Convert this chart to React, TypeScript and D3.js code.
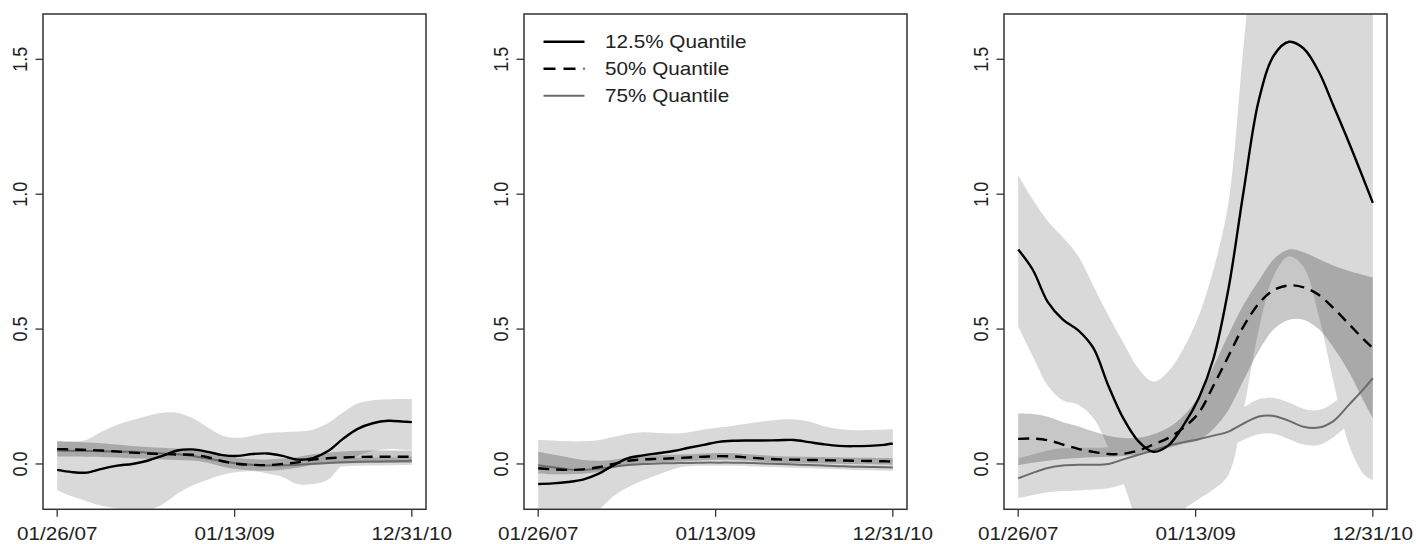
import React from "react";
import * as d3 from "d3";

// ---------- data ----------
const sampleDates = [
  "2007-01-26", "2007-03-26", "2007-05-26", "2007-07-26", "2007-09-26", "2007-11-26",
  "2008-01-26", "2008-03-26", "2008-05-26", "2008-07-26", "2008-09-26", "2008-11-26",
  "2009-01-26", "2009-03-26", "2009-05-26", "2009-07-26", "2009-09-26", "2009-11-26",
  "2010-01-26", "2010-03-26", "2010-05-26", "2010-07-26", "2010-09-26", "2010-11-26",
  "2010-12-31",
];
const xTickDates = ["2007-01-26", "2009-01-13", "2010-12-31"];
const xDomain = ["2007-01-26", "2010-12-31"];
const yTicks = [0, 0.5, 1.0, 1.5];
const yLimits = [-0.1, 1.6];
const legendLabels = ["12.5% Quantile", "50% Quantile", "75% Quantile"];

// Panel 1
const p1Q125 = [-0.022, -0.03, -0.032, -0.018, -0.006, 0.0, 0.012, 0.03, 0.05, 0.054, 0.045, 0.033, 0.03, 0.037, 0.039, 0.03, 0.016, 0.022, 0.048, 0.092, 0.13, 0.151, 0.16, 0.157, 0.155];
const p1Q125Hi = [0.082, 0.082, 0.09, 0.12, 0.145, 0.163, 0.178, 0.19, 0.19, 0.17, 0.135, 0.105, 0.097, 0.105, 0.115, 0.118, 0.12, 0.127, 0.152, 0.19, 0.224, 0.236, 0.24, 0.241, 0.241];
const p1Q125Lo = [-0.096, -0.12, -0.138, -0.155, -0.165, -0.172, -0.172, -0.15, -0.11, -0.08, -0.058, -0.04, -0.03, -0.027, -0.035, -0.048, -0.075, -0.074, -0.058, -0.002, 0.03, 0.048, 0.055, 0.053, 0.052];
const p1Q50 = [0.055, 0.054, 0.052, 0.05, 0.046, 0.042, 0.039, 0.037, 0.035, 0.034, 0.025, 0.01, 0.0, -0.003, -0.004, 0.0, 0.006, 0.016, 0.021, 0.024, 0.026, 0.027, 0.027, 0.027, 0.027];
const p1Q50Hi = [0.085, 0.083, 0.08, 0.077, 0.072, 0.067, 0.063, 0.06, 0.057, 0.055, 0.046, 0.032, 0.022, 0.018, 0.017, 0.02, 0.026, 0.036, 0.042, 0.046, 0.049, 0.05, 0.05, 0.05, 0.05];
const p1Q50Lo = [0.028, 0.028, 0.027, 0.026, 0.024, 0.021, 0.019, 0.017, 0.015, 0.013, 0.005, -0.01, -0.02, -0.024, -0.025, -0.021, -0.014, -0.004, 0.0, 0.002, 0.003, 0.004, 0.004, 0.004, 0.004];
const p1Q75 = [0.05, 0.049, 0.048, 0.047, 0.046, 0.045, 0.042, 0.039, 0.036, 0.03, 0.02, 0.01, 0.002, -0.003, -0.006, -0.005, -0.003, 0.001, 0.004, 0.006, 0.008, 0.009, 0.01, 0.011, 0.012];
const p1Q75Hi = [0.065, 0.064, 0.063, 0.062, 0.061, 0.06, 0.057, 0.054, 0.051, 0.045, 0.035, 0.025, 0.017, 0.012, 0.009, 0.01, 0.012, 0.016, 0.019, 0.021, 0.023, 0.024, 0.025, 0.026, 0.027];
const p1Q75Lo = [0.035, 0.034, 0.033, 0.032, 0.031, 0.03, 0.027, 0.024, 0.021, 0.015, 0.005, -0.005, -0.013, -0.018, -0.021, -0.02, -0.018, -0.014, -0.011, -0.009, -0.007, -0.006, -0.005, -0.004, -0.003];

// Panel 2
const p2Q125 = [-0.074, -0.072, -0.067, -0.058, -0.037, -0.005, 0.022, 0.032, 0.04, 0.048, 0.06, 0.071, 0.082, 0.086, 0.087, 0.087, 0.088, 0.089, 0.081, 0.073, 0.067, 0.066, 0.067, 0.071, 0.076];
const p2Q125Hi = [0.089, 0.087, 0.084, 0.084, 0.088, 0.1, 0.112, 0.118, 0.115, 0.113, 0.118, 0.128, 0.135, 0.142, 0.15, 0.158, 0.164, 0.165, 0.157, 0.14, 0.13, 0.125, 0.126, 0.128, 0.13];
const p2Q125Lo = [-0.25, -0.23, -0.21, -0.19, -0.17, -0.12, -0.085, -0.06, -0.04, -0.02, -0.005, 0.0, -0.002, -0.004, -0.005, -0.006, -0.007, -0.008, -0.009, -0.01, -0.011, -0.012, -0.013, -0.014, -0.015];
const p2Q50 = [-0.016, -0.02, -0.022, -0.02, -0.012, 0.0, 0.012, 0.017, 0.019, 0.021, 0.024, 0.027, 0.029, 0.028, 0.024, 0.02, 0.017, 0.016, 0.015, 0.014, 0.013, 0.012, 0.011, 0.01, 0.009];
const p2Q50Hi = [0.045, 0.035, 0.025, 0.015, 0.012, 0.016, 0.025, 0.03, 0.032, 0.034, 0.036, 0.039, 0.041, 0.04, 0.036, 0.032, 0.029, 0.028, 0.027, 0.026, 0.025, 0.024, 0.023, 0.022, 0.021];
const p2Q50Lo = [-0.035, -0.038, -0.038, -0.036, -0.03, -0.015, -0.002, 0.004, 0.006, 0.008, 0.011, 0.014, 0.016, 0.015, 0.012, 0.008, 0.005, 0.004, 0.003, 0.002, 0.001, 0.0, -0.001, -0.002, -0.003];
const p2Q75 = [-0.005, -0.012, -0.02, -0.022, -0.018, -0.01, -0.004, 0.0, 0.002, 0.003, 0.004, 0.005, 0.005, 0.005, 0.004, 0.002, 0.0, -0.002, -0.004, -0.006, -0.008, -0.01, -0.011, -0.012, -0.013];
const p2Q75Hi = [0.007, 0.0, -0.008, -0.01, -0.006, 0.002, 0.008, 0.012, 0.014, 0.015, 0.016, 0.017, 0.017, 0.017, 0.016, 0.014, 0.012, 0.01, 0.008, 0.006, 0.004, 0.002, 0.001, 0.0, -0.001];
const p2Q75Lo = [-0.017, -0.024, -0.032, -0.034, -0.03, -0.022, -0.016, -0.012, -0.01, -0.009, -0.008, -0.007, -0.007, -0.007, -0.008, -0.01, -0.012, -0.014, -0.016, -0.018, -0.02, -0.022, -0.023, -0.024, -0.025];

// Panel 3
const p3Q125 = [0.795, 0.72, 0.6, 0.535, 0.495, 0.43, 0.29, 0.17, 0.085, 0.045, 0.07, 0.145, 0.245, 0.39, 0.65, 1.01, 1.35, 1.515, 1.565, 1.54, 1.455, 1.325, 1.19, 1.05, 0.968];
const p3Q125Hi = [1.07, 0.98, 0.9, 0.84, 0.77, 0.66, 0.55, 0.45, 0.355, 0.305, 0.345, 0.43, 0.55, 0.72, 0.97, 1.55, 2.1, 2.3, 2.4, 2.4, 2.4, 2.4, 2.4, 2.4, 2.4];
const p3Q125Lo = [0.51, 0.4, 0.29, 0.235, 0.22, 0.17, 0.06, -0.07, -0.22, -0.3, -0.25, -0.17, -0.13, -0.095, -0.04, 0.2, 0.5, 0.7, 0.77, 0.73, 0.55, 0.3, 0.07, -0.04, -0.06];
const p3Q50 = [0.093, 0.094, 0.088, 0.072, 0.056, 0.045, 0.037, 0.038, 0.05, 0.072, 0.097, 0.135, 0.19, 0.29, 0.4, 0.51, 0.595, 0.645, 0.662, 0.655, 0.627, 0.577, 0.518, 0.46, 0.43];
const p3Q50Hi = [0.187, 0.185, 0.175, 0.155, 0.14, 0.12, 0.104, 0.096, 0.097, 0.11, 0.135, 0.18, 0.25, 0.36, 0.48, 0.59, 0.68, 0.76, 0.795, 0.785, 0.76, 0.735, 0.715, 0.7, 0.692];
const p3Q50Lo = [-0.004, 0.005, 0.012, 0.018, 0.022, 0.025, 0.027, 0.03, 0.035, 0.045, 0.06, 0.075, 0.09, 0.13, 0.2, 0.31, 0.42, 0.5, 0.535, 0.535, 0.5, 0.43, 0.34, 0.23, 0.17];
const p3Q75 = [-0.053, -0.033, -0.015, -0.006, -0.003, -0.003, 0.0, 0.017, 0.034, 0.05, 0.068, 0.081, 0.092, 0.105, 0.12, 0.15, 0.176, 0.178, 0.16, 0.138, 0.135, 0.16, 0.22, 0.28, 0.318];
const p3Q75Hi = [0.02, 0.035, 0.05, 0.058, 0.06, 0.06, 0.062, 0.075, 0.09, 0.105, 0.12, 0.133, 0.145, 0.16, 0.18, 0.21, 0.24, 0.245, 0.228, 0.205, 0.2, 0.228, 0.28, 0.345, 0.385];
const p3Q75Lo = [-0.127, -0.115, -0.105, -0.1, -0.098, -0.095, -0.09, -0.075, -0.055, -0.035, -0.015, 0.0, 0.015, 0.04, 0.06, 0.09, 0.11, 0.112, 0.092, 0.072, 0.07, 0.1, 0.15, 0.215, 0.25];

const panelData = [
  { q125: p1Q125, q125Hi: p1Q125Hi, q125Lo: p1Q125Lo, q50: p1Q50, q50Hi: p1Q50Hi, q50Lo: p1Q50Lo, q75: p1Q75, q75Hi: p1Q75Hi, q75Lo: p1Q75Lo },
  { q125: p2Q125, q125Hi: p2Q125Hi, q125Lo: p2Q125Lo, q50: p2Q50, q50Hi: p2Q50Hi, q50Lo: p2Q50Lo, q75: p2Q75, q75Hi: p2Q75Hi, q75Lo: p2Q75Lo },
  { q125: p3Q125, q125Hi: p3Q125Hi, q125Lo: p3Q125Lo, q50: p3Q50, q50Hi: p3Q50Hi, q50Lo: p3Q50Lo, q75: p3Q75, q75Hi: p3Q75Hi, q75Lo: p3Q75Lo },
];

// ---------- layout ----------
const W = 1416;
const H = 544;
const panelLefts = [43, 524, 1004];
const boxW = 383;
const boxTop = 14;
const boxBottom = 509.3;
const SX = 1.15; // horizontal text stretch of the reference
const FONT = "'Liberation Sans', Arial, sans-serif";

const LIGHT = "#d9d9d9";
const DARK = "rgba(0,0,0,0.22)";
const GRAY = "#6b6b6b";
const AXIS = "#333";
const TEXT = "#222";

const parse = d3.timeParse("%Y-%m-%d");
const fmt = d3.timeFormat("%m/%d/%y");
const dates = sampleDates.map((s) => parse(s) as Date);

function Panel({ idx }: { idx: number }) {
  const d = panelData[idx];
  const left = panelLefts[idx];
  const right = left + boxW;
  const padX = (boxW * 0.04) / 1.08;
  const padY = ((boxBottom - boxTop) * 0.04) / 1.08;
  const x = d3
    .scaleTime()
    .domain(xDomain.map((s) => parse(s) as Date))
    .range([left + padX, right - padX]);
  const y = d3
    .scaleLinear()
    .domain(yLimits)
    .range([boxBottom - padY, boxTop + padY]);

  const curve = d3.curveCatmullRom.alpha(0.5);
  const band = (lo: number[], hi: number[]) =>
    d3
      .area<number>()
      .x((i) => x(dates[i]))
      .y0((i) => y(lo[i]))
      .y1((i) => y(hi[i]))
      .curve(curve)(dates.map((_, i) => i)) || "";
  const line = (v: number[]) =>
    d3
      .line<number>()
      .x((i) => x(dates[i]))
      .y((i) => y(v[i]))
      .curve(curve)(dates.map((_, i) => i)) || "";

  const clipId = `clip${idx}`;
  return (
    <g>
      <defs>
        <clipPath id={clipId}>
          <rect x={left} y={boxTop} width={boxW} height={boxBottom - boxTop} />
        </clipPath>
      </defs>
      <g clipPath={`url(#${clipId})`}>
        <path d={band(d.q125Lo, d.q125Hi)} fill={LIGHT} />
        <path d={band(d.q75Lo, d.q75Hi)} fill={LIGHT} />
        <path d={band(d.q50Lo, d.q50Hi)} fill={DARK} />
        <path d={line(d.q75)} fill="none" stroke={GRAY} strokeWidth={2} />
        <path d={line(d.q50)} fill="none" stroke="#000" strokeWidth={2.4} strokeDasharray="11 7" />
        <path d={line(d.q125)} fill="none" stroke="#000" strokeWidth={2.4} />
      </g>
      <rect x={left} y={boxTop} width={boxW} height={boxBottom - boxTop} fill="none" stroke={AXIS} strokeWidth={1.5} />
      {xTickDates.map((s) => {
        const dt = parse(s) as Date;
        const px = x(dt);
        return (
          <g key={s}>
            <line x1={px} x2={px} y1={boxBottom} y2={boxBottom + 7.5} stroke={AXIS} strokeWidth={1.3} />
            <text
              transform={`translate(${px},540) scale(${SX},1)`}
              textAnchor="middle"
              fontFamily={FONT}
              fontSize={18}
              fill={TEXT}
            >
              {fmt(dt)}
            </text>
          </g>
        );
      })}
      {yTicks.map((v) => {
        const py = y(v);
        return (
          <g key={v}>
            <line x1={left - 7.5} x2={left} y1={py} y2={py} stroke={AXIS} strokeWidth={1.3} />
            <text
              transform={`translate(${left - 16},${py}) scale(${SX},1) rotate(-90)`}
              textAnchor="middle"
              fontFamily={FONT}
              fontSize={18}
              fill={TEXT}
            >
              {v.toFixed(1)}
            </text>
          </g>
        );
      })}
      {idx === 1 && (
        <g>
          {legendLabels.map((lab, i) => {
            const cy = 41.7 + i * 27;
            const stroke = i === 2 ? GRAY : "#000";
            return (
              <g key={lab}>
                <line
                  x1={left + 19.5}
                  x2={left + 60.5}
                  y1={cy}
                  y2={cy}
                  stroke={stroke}
                  strokeWidth={i === 2 ? 2 : 2.4}
                  strokeDasharray={i === 1 ? "12 8" : undefined}
                />
                <text
                  transform={`translate(${left + 81},${cy + 6.5}) scale(${SX},1)`}
                  fontFamily={FONT}
                  fontSize={18}
                  fill={TEXT}
                >
                  {lab}
                </text>
              </g>
            );
          })}
        </g>
      )}
    </g>
  );
}

export default function App() {
  return (
    <svg
      width={W}
      height={H}
      viewBox={`0 0 ${W} ${H}`}
      style={{ position: "absolute", left: 0, top: 0, background: "#fff" }}
    >
      <rect x={0} y={0} width={W} height={H} fill="#fff" />
      {panelData.map((_, i) => (
        <Panel key={i} idx={i} />
      ))}
    </svg>
  );
}
